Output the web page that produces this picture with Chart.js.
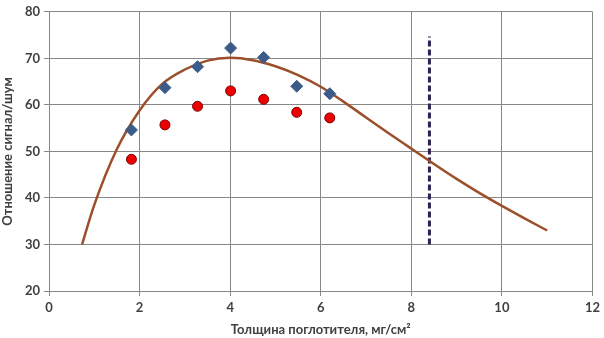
<!DOCTYPE html>
<html>
<head>
<meta charset="utf-8">
<script src="https://cdn.jsdelivr.net/npm/chart.js@4/dist/chart.umd.min.js"></script>
<style>
  html, body { margin: 0; padding: 0; background: #fff; }
  #wrap { width: 604px; height: 338px; }
</style>
</head>
<body>
<div id="wrap"><canvas id="chart" width="604" height="338"></canvas></div>
<script>
// Absorber thickness (mg/cm2) for measured points
const thickness = [1.82, 2.56, 3.28, 4.01, 4.74, 5.47, 6.2];
// Signal/noise, two measured series
const snrDiamonds = [54.6, 63.7, 68.2, 72.2, 70.2, 64.0, 62.4];
const snrCircles = [48.3, 55.7, 59.7, 63.0, 61.2, 58.4, 57.2];

// Fitted curve
const curveX = [0.73, 1.0, 1.5, 2.0, 2.5, 3.0, 3.5, 4.0, 4.5, 5.0, 5.5, 6.0, 6.5, 7.0, 7.5, 8.0, 8.5, 9.0, 9.5, 10.0, 10.5, 11.0];
const curveY = [30, 38.5, 50.5, 58.8, 64.5, 67.6, 69.5, 70.1, 69.6, 68.3, 66.4, 63.9, 60.7, 57.3, 53.9, 50.6, 47.3, 44.1, 41.1, 38.3, 35.6, 33.0];

// Vertical dashed limit line
const limitX = [8.4, 8.4];
const limitY = [30, 74.7];

const xTicks = [0, 2, 4, 6, 8, 10, 12];
const yTicks = [20, 30, 40, 50, 60, 70, 80];

const textColor = '#404040';
const fontFamily = 'Lato, "Open Sans", sans-serif';

function toPoints(xs, ys) {
    return xs.map((x, i) => ({ x: x, y: ys[i] }));
}

const ctx = document.getElementById('chart').getContext('2d');
new Chart(ctx, {
    type: 'scatter',
    data: {
        datasets: [
            {
                label: 'limit',
                data: toPoints(limitX, limitY),
                showLine: true,
                borderColor: '#2e2050',
                borderWidth: 3,
                borderDash: [6, 3],
                pointRadius: 0,
                order: 3
            },
            {
                label: 'curve',
                data: toPoints(curveX, curveY),
                showLine: true,
                borderColor: '#9b4f2b',
                borderWidth: 2.5,
                cubicInterpolationMode: 'monotone',
                pointRadius: 0,
                order: 2
            },
            {
                label: 'diamonds',
                data: toPoints(thickness, snrDiamonds),
                pointStyle: 'rectRot',
                pointRadius: 6,
                backgroundColor: '#3b5c88',
                borderColor: '#3b5c88',
                borderWidth: 1,
                order: 1
            },
            {
                label: 'circles',
                data: toPoints(thickness, snrCircles),
                pointStyle: 'circle',
                pointRadius: 5,
                backgroundColor: '#ee0000',
                borderColor: '#7a0000',
                borderWidth: 1,
                order: 0
            }
        ]
    },
    options: {
        responsive: false,
        animation: false,
        layout: { padding: { top: 7, right: 11, left: 0, bottom: 0 } },
        plugins: {
            legend: { display: false },
            tooltip: { enabled: false }
        },
        scales: {
            x: {
                type: 'linear',
                min: 0,
                max: 12,
                afterBuildTicks: function(scale) {
                    scale.ticks = xTicks.map(v => ({ value: v }));
                },
                afterFit: function(scale) { scale.height = 47; },
                grid: { color: '#888888', lineWidth: 1, tickLength: 5, drawTicks: true },
                border: { color: '#888888' },
                ticks: {
                    color: textColor,
                    padding: 4,
                    font: { family: fontFamily, size: 13, weight: 'bold' }
                },
                title: {
                    display: true,
                    text: 'Толщина поглотителя, мг/см²',
                    color: textColor,
                    padding: { top: 2, bottom: 0 },
                    font: { family: fontFamily, size: 13, weight: 'bold' }
                }
            },
            y: {
                type: 'linear',
                min: 20,
                max: 80,
                afterBuildTicks: function(scale) {
                    scale.ticks = yTicks.map(v => ({ value: v }));
                },
                afterFit: function(scale) { scale.width = 49; },
                grid: { color: '#888888', lineWidth: 1, tickLength: 5, drawTicks: true },
                border: { color: '#888888' },
                ticks: {
                    color: textColor,
                    padding: 4,
                    font: { family: fontFamily, size: 13, weight: 'bold' }
                },
                title: {
                    display: true,
                    text: 'Отношение сигнал/шум',
                    color: textColor,
                    padding: { top: 0, bottom: 2 },
                    font: { family: fontFamily, size: 13, weight: 'bold' }
                }
            }
        }
    }
});
</script>
</body>
</html>
